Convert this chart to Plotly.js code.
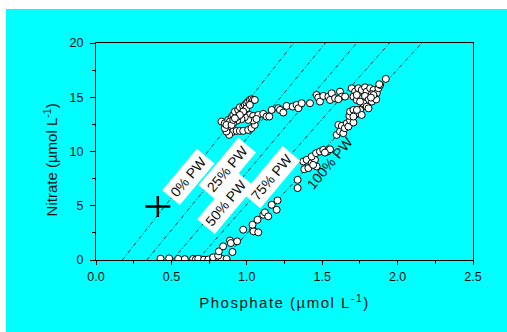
<!DOCTYPE html>
<html>
<head>
<meta charset="utf-8">
<script src="https://cdn.plot.ly/plotly-3.0.1.min.js"></script>
<style>
html, body { margin: 0; padding: 0; background: #ffffff; width: 507px; height: 332px; overflow: hidden; }
#chart { position: absolute; left: 6px; top: 9px; width: 501px; height: 323px; }
.xtitle { letter-spacing: 1.5px; }
</style>
</head>
<body>
<div id="chart"></div>
<script>
// Observed samples: phosphate (x) and nitrate (y), µmol L-1
const phosphate = [
  0.428, 0.485, 0.545, 0.589, 0.644, 0.662, 0.678, 0.716, 0.745, 0.777, 0.800, 0.833, 0.866,
  0.777, 0.810, 0.815, 0.843, 0.888, 0.894, 0.905, 0.936, 0.976, 1.040, 1.044, 1.076, 1.038, 1.071, 1.109, 1.120, 1.142, 1.165, 1.198, 1.204,
  1.337, 1.337, 1.381, 1.408, 1.375, 1.397, 1.430, 1.452, 1.430, 1.459, 1.485, 1.507, 1.534, 1.552, 1.518, 1.463, 1.440,
  1.596, 1.618, 1.607, 1.630, 1.640, 1.650, 1.663, 1.674, 1.685, 1.707, 1.680, 1.685, 1.707, 1.718, 1.740, 1.751, 1.762, 1.707, 1.730,
  1.696, 1.718, 1.740, 1.762, 1.784, 1.795, 1.818, 1.840, 1.829, 1.862, 1.873, 1.884, 1.922, 1.878, 1.707, 1.729, 1.762, 1.784, 1.807, 1.829, 1.851, 1.858, 1.773, 1.795, 1.751, 1.807, 1.729, 1.840, 1.823,
  0.998, 1.020, 1.042, 1.076, 1.109, 1.131, 1.149, 1.165, 1.209, 1.220, 1.242, 1.264, 1.304, 1.330, 1.342, 1.364, 1.419, 1.463, 1.474, 1.485, 1.507, 1.541, 1.563, 1.552, 1.585, 1.618, 1.630, 1.652, 1.607,
  0.888, 0.910, 0.932, 0.954, 0.976, 1.009, 1.031, 1.053, 1.042, 1.064, 1.009, 0.987, 0.965, 0.936, 0.910, 0.877, 0.883, 0.865, 0.854, 0.832, 0.854, 0.877, 0.899, 0.910, 0.932, 0.921, 0.943, 0.954, 0.976, 0.987, 0.998, 1.009, 1.020, 1.031, 1.042, 1.053, 0.965, 0.943, 0.888, 0.865, 0.899, 0.910, 0.998, 1.020, 0.976, 0.954, 0.921
];
const nitrate = [
  0.12, 0.15, 0.10, 0.08, 0.10, 0.05, 0.12, 0.03, 0.05, 0.10, 0.08, 0.12, 0.10,
  0.25, 0.40, 0.80, 1.26, 1.80, 1.56, 0.74, 1.72, 2.79, 2.79, 2.64, 2.55, 3.25, 3.71, 4.17, 4.39, 4.02, 5.09, 4.63, 5.49,
  6.63, 7.39, 8.37, 8.47, 9.08, 9.23, 8.93, 9.23, 9.54, 9.85, 10.00, 10.15, 10.00, 10.20, 9.90, 8.62, 8.77,
  11.53, 11.84, 12.45, 12.36, 11.69, 12.15, 12.60, 12.30, 12.85, 12.67, 13.28, 13.68, 13.83, 13.37, 13.53, 13.83, 13.37, 13.22, 13.83,
  15.83, 15.52, 15.83, 15.67, 15.92, 15.52, 15.83, 15.67, 15.28, 15.37, 15.83, 16.13, 16.69, 16.20, 15.06, 14.75, 14.91, 15.12, 14.75, 14.60, 14.91, 14.80, 14.45, 14.14, 14.60, 13.98, 15.21, 15.21, 14.97,
  13.22, 13.37, 13.28, 13.37, 13.47, 13.22, 13.22, 13.83, 13.99, 13.83, 13.59, 14.20, 14.14, 14.29, 13.99, 14.45, 14.45, 15.21, 14.97, 14.60, 15.12, 15.06, 15.37, 14.75, 14.91, 15.52, 15.06, 15.06, 14.82,
  11.99, 11.84, 11.90, 11.90, 11.90, 11.99, 12.15, 12.45, 12.85, 13.00, 12.91, 13.16, 12.98, 12.85, 12.60, 12.30, 11.53, 11.84, 12.15, 12.76, 12.60, 12.91, 13.16, 13.37, 13.53, 13.68, 13.83, 14.08, 14.14, 14.29, 14.45, 14.60, 14.75, 14.82, 14.75, 14.75, 13.53, 13.22, 12.76, 12.45, 12.45, 12.91, 13.98, 14.29, 13.68, 13.37, 13.06
];

// Mean end-member point with its spread
const meanPhosphate = [0.41];
const meanNitrate = [4.93];
const spreadPhosphate = [0.083];
const spreadNitrate = [0.97];

// Mixing lines: phosphate where each line meets nitrate 0 and nitrate 20
const mixLabels = ['0% PW', '25% PW', '50% PW', '75% PW', '100% PW'];
const mixNitrateEnds = [0, 20];
const mixPhosphateAt0 = [0.175, 0.337, 0.507, 0.673, 0.840];
const mixPhosphateAt20 = [1.311, 1.521, 1.729, 1.946, 2.161];
const labelPhosphate = [0.612, 0.870, 0.859, 1.165, 1.552];
const labelNitrate = [7.64, 8.37, 5.30, 7.64, 8.90];

const fontFam = 'Arial, "Liberation Sans", sans-serif';

const traces = [];
mixLabels.forEach((name, i) => {
  traces.push({
    x: [mixPhosphateAt0[i], mixPhosphateAt20[i]],
    y: mixNitrateEnds,
    mode: 'lines',
    line: { color: '#000', width: 0.8, dash: '4px,2px,1px,2px' },
    hoverinfo: 'skip',
    showlegend: false
  });
});
traces.push({
  x: phosphate, y: nitrate, mode: 'markers', type: 'scatter',
  marker: { symbol: 'circle', size: 7, color: '#ffffff', line: { color: '#000', width: 1 } },
  showlegend: false
});
traces.push({
  x: meanPhosphate, y: meanNitrate, mode: 'markers', type: 'scatter',
  marker: { size: 1, color: '#000' },
  error_x: { type: 'data', array: spreadPhosphate, visible: true, color: '#000', thickness: 2.5, width: 0 },
  error_y: { type: 'data', array: spreadNitrate, visible: true, color: '#000', thickness: 2.5, width: 0 },
  showlegend: false
});

const annotations = mixLabels.map((name, i) => ({
  x: labelPhosphate[i], y: labelNitrate[i], xref: 'x', yref: 'y',
  text: name, showarrow: false, textangle: -50,
  font: { family: fontFam, size: 14, color: '#111' },
  bgcolor: i < 4 ? '#ffffff' : 'rgba(0,0,0,0)',
  borderpad: 3
}));
annotations.push({
  x: -0.152, y: 0.46, xref: 'paper', yref: 'paper',
  text: 'Nitrate (µmol L<sup>-1</sup>)', showarrow: false, textangle: -90,
  font: { family: fontFam, size: 15, color: '#111' }
});

const layout = {
  width: 501, height: 323,
  margin: { l: 90, r: 34, t: 34, b: 72 },
  paper_bgcolor: '#00ffff', plot_bgcolor: '#00ffff',
  font: { family: fontFam, color: '#111' },
  showlegend: false,
  xaxis: {
    range: [0, 2.5], dtick: 0.5, tick0: 0, tickformat: '.1f',
    showgrid: false, zeroline: false,
    showline: true, linecolor: '#000', linewidth: 1, mirror: true,
    ticks: 'outside', ticklen: 4, tickwidth: 1, tickcolor: '#000',
    minor: { dtick: 0.25, ticks: 'outside', ticklen: 3, tickcolor: '#000', showgrid: false },
    tickfont: { family: fontFam, size: 12.5, color: '#111' },
    ticklabelstandoff: 1,
    title: { text: 'Phosphate (µmol L<sup>-1</sup>)', font: { family: fontFam, size: 15, color: '#111' }, standoff: 14 }
  },
  yaxis: {
    range: [0, 20], dtick: 5, tick0: 0,
    showgrid: false, zeroline: false,
    showline: true, linecolor: '#000', linewidth: 1, mirror: true,
    ticks: 'outside', ticklen: 5, tickwidth: 1, tickcolor: '#000',
    minor: { dtick: 2.5, ticks: 'outside', ticklen: 3, tickcolor: '#000', showgrid: false },
    tickfont: { family: fontFam, size: 12.5, color: '#111' },
    ticklabelstandoff: 4
  },
  annotations: annotations
};

Plotly.newPlot('chart', traces, layout, { displayModeBar: false, staticPlot: true });
</script>
</body>
</html>
